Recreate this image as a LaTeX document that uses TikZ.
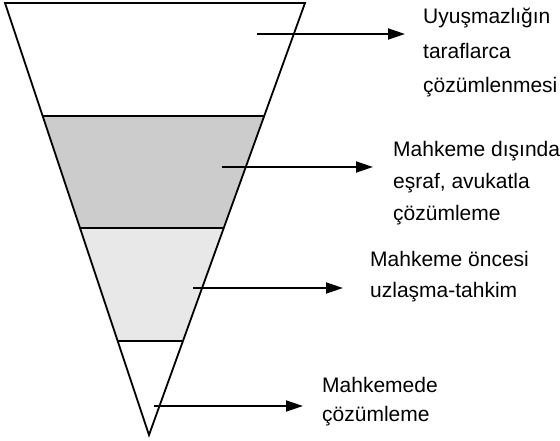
\documentclass[tikz,border=0pt]{standalone}
\usepackage{fontspec}
\setmainfont{Liberation Sans}
\usetikzlibrary{calc,arrows.meta}
\begin{document}
\begin{tikzpicture}[x=1pt,y=-1pt,
  edge/.style={line width=1.8pt,line join=miter},
  band/.style={line width=1.8pt},
  pointer/.style={line width=1.8pt,-{Triangle[length=17pt,width=11pt]}},
  lbl/.style={anchor=base west,inner sep=0pt,font=\fontsize{21}{30}\selectfont}]
\useasboundingbox (0,0) rectangle (560,441);
\coordinate (TL) at (5,3);
\coordinate (TR) at (305,3);
\coordinate (AP) at (149,435);
% band boundary points
\coordinate (L1) at ($(TL)!0.2616!(AP)$);
\coordinate (R1) at ($(TR)!0.2616!(AP)$);
\coordinate (L2) at ($(TL)!0.5208!(AP)$);
\coordinate (R2) at ($(TR)!0.5208!(AP)$);
\coordinate (L3) at ($(TL)!0.7824!(AP)$);
\coordinate (R3) at ($(TR)!0.7824!(AP)$);
% fills
\fill[black!20] (L1) -- (R1) -- (R2) -- (L2) -- cycle;
\fill[black!9] (L2) -- (R2) -- (R3) -- (L3) -- cycle;
% outline
\draw[edge] (TL) -- (TR) -- (AP) -- cycle;
\draw[band] (L1) -- (R1);
\draw[band] (L2) -- (R2);
\draw[band,line width=1.4pt] (L3) -- (R3);
% labels
\node[lbl] (t1a) at (423,24) {Uyuşmazlığın};
\node[lbl] (t1b) at (423,59) {taraflarca};
\node[lbl] (t1c) at (423,93) {çözümlenmesi};
\node[lbl] (t2a) at (393,157) {Mahkeme dışında};
\node[lbl] (t2b) at (393,189) {eşraf, avukatla};
\node[lbl] (t2c) at (393,220) {çözümleme};
\node[lbl] (t3a) at (370,266) {Mahkeme öncesi};
\node[lbl] (t3b) at (370,297) {uzlaşma-tahkim};
\node[lbl] (t4a) at (322,392) {Mahkemede};
\node[lbl] (t4b) at (322,421) {çözümleme};
% arrows
\coordinate (a1s) at (257,34);  \coordinate (a1e) at (405,34);
\coordinate (a2s) at (222,167); \coordinate (a2e) at (373,167);
\coordinate (a3s) at (193,288); \coordinate (a3e) at (343,288);
\coordinate (a4s) at (154,406); \coordinate (a4e) at (303,406);
\draw[pointer] (a1s) -- (a1e);
\draw[pointer] (a2s) -- (a2e);
\draw[pointer] (a3s) -- (a3e);
\draw[pointer] (a4s) -- (a4e);
\end{tikzpicture}
\end{document}
